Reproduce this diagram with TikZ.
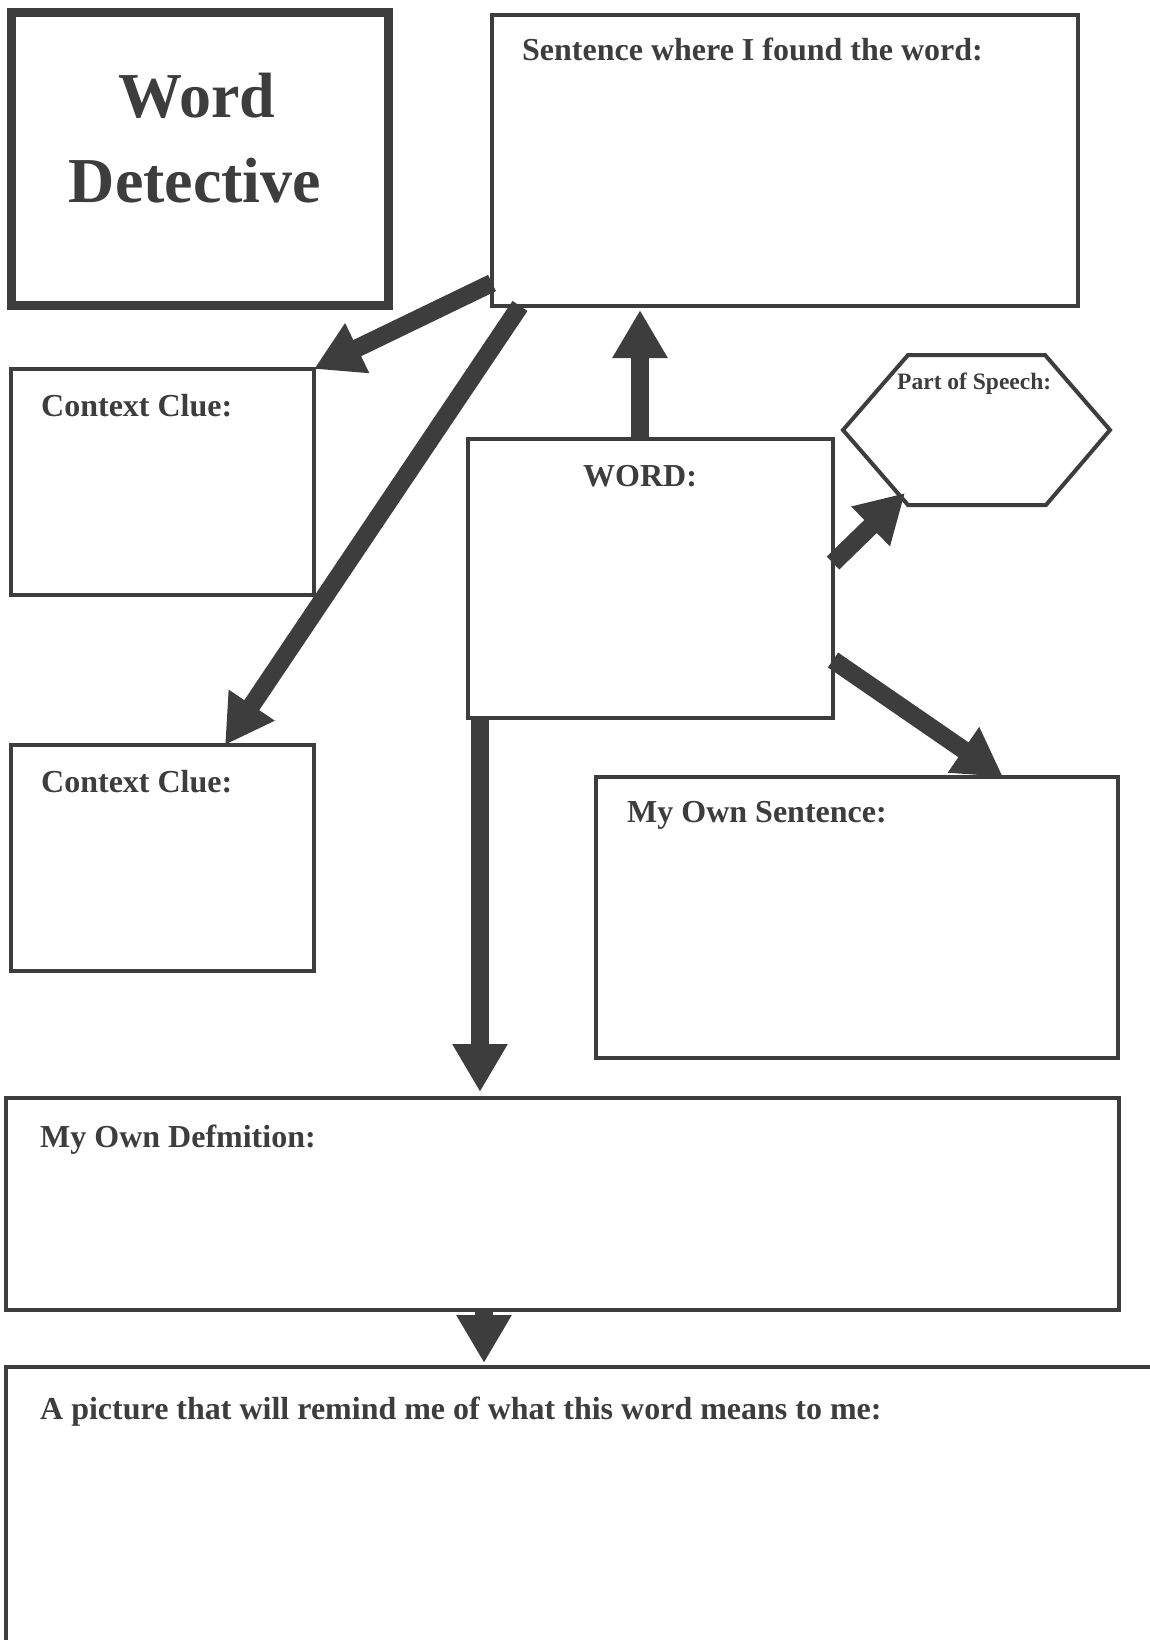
\documentclass[tikz,border=0pt]{standalone}
\usepackage{fontspec}
\setmainfont{Liberation Serif}
\usetikzlibrary{arrows.meta,calc}
\definecolor{ink}{HTML}{3D3D3D}
\begin{document}
\begin{tikzpicture}[x=1pt,y=-1pt,
  box/.style={draw=ink,line width=4pt,rectangle,outer sep=0pt,inner sep=0pt,anchor=north west},
  lbl/.style={anchor=base west,inner sep=0pt,text=ink,font=\bfseries\fontsize{32}{38}\selectfont},
  ttl/.style={anchor=base,inner sep=0pt,text=ink,font=\bfseries\fontsize{64}{76}\selectfont},
  arr/.style={draw=ink,line width=18pt,-{Triangle[length=48pt,width=52pt]}},
]
\useasboundingbox[fill=white] (0,0) rectangle (1150,1640);

% boxes
\node[box,line width=9pt,minimum width=377pt,minimum height=292pt] (title) at (11,13) {};
\node[box,minimum width=586pt,minimum height=291pt] (sent) at (492,15) {};
\node[box,minimum width=303pt,minimum height=226pt] (cc1) at (11,369) {};
\node[box,minimum width=303pt,minimum height=226pt] (cc2) at (11,745) {};
\node[box,minimum width=365pt,minimum height=279pt] (word) at (468,439) {};
\node[box,minimum width=522pt,minimum height=281pt] (own) at (596,777) {};
\node[box,minimum width=1113pt,minimum height=212pt] (def) at (6,1098) {};
\node[box,minimum width=1146pt,minimum height=293pt] (pic) at (6,1367) {};

% part-of-speech hexagon
\coordinate (h1) at (908,355);
\coordinate (h2) at (1045,355);
\coordinate (h3) at (1110,430);
\coordinate (h4) at (1046,505);
\coordinate (h5) at (908,505);
\coordinate (h6) at (843,430);
\draw[draw=ink,line width=4pt,line join=miter] (h1) -- (h2) -- (h3) -- (h4) -- (h5) -- (h6) -- cycle;

% labels
\node[ttl] (titleA) at (197,118) {Word};
\node[ttl] (titleB) at (195,203) {Detective};
\node[lbl] (sentL) at (522,61) {Sentence where I found the word:};
\node[lbl] (cc1L) at (41,416) {Context Clue:};
\node[lbl] (cc2L) at (41,792) {Context Clue:};
\node[lbl] (wordL) at (583,486) {WORD:};
\node[lbl,font=\bfseries\fontsize{23.5}{28}\selectfont] (posL) at (897,389) {Part of Speech:};
\node[lbl] (ownL) at (627,822) {My Own Sentence:};
\node[lbl] (defL) at (40,1147) {My Own Defmition:};
\node[lbl] (picL) at (40,1419) {A picture that will remind me of what this word means to me:};

% connectors
\draw[arr] ($(sent.south west)+(0,-23)$) -- (cc1.north east);
\draw[arr] ($(sent.south west)+(28,0)$) -- ($(cc2.north west)+(214,0)$);
\coordinate (upA) at ($(word.north west)+(172,0)$);
\draw[arr] (upA) -- ($(upA |- sent.south)+(0,4)$);
\draw[arr] ($(word.north east)+(0,124)$) -- ($(h5)+(-3,-12)$);
\draw[arr] ($(word.north east)+(0,221)$) -- ($(own.north west)+(407,0)$);
\coordinate (dnA) at ($(word.south west)+(12,0)$);
\draw[arr] (dnA) -- ($(dnA |- def.north)+(0,-6)$);
\coordinate (dnB) at ($(def.south west)+(478,0)$);
\draw[arr] (dnB) -- ($(dnB |- pic.north)+(0,-4)$);
\end{tikzpicture}
\end{document}
